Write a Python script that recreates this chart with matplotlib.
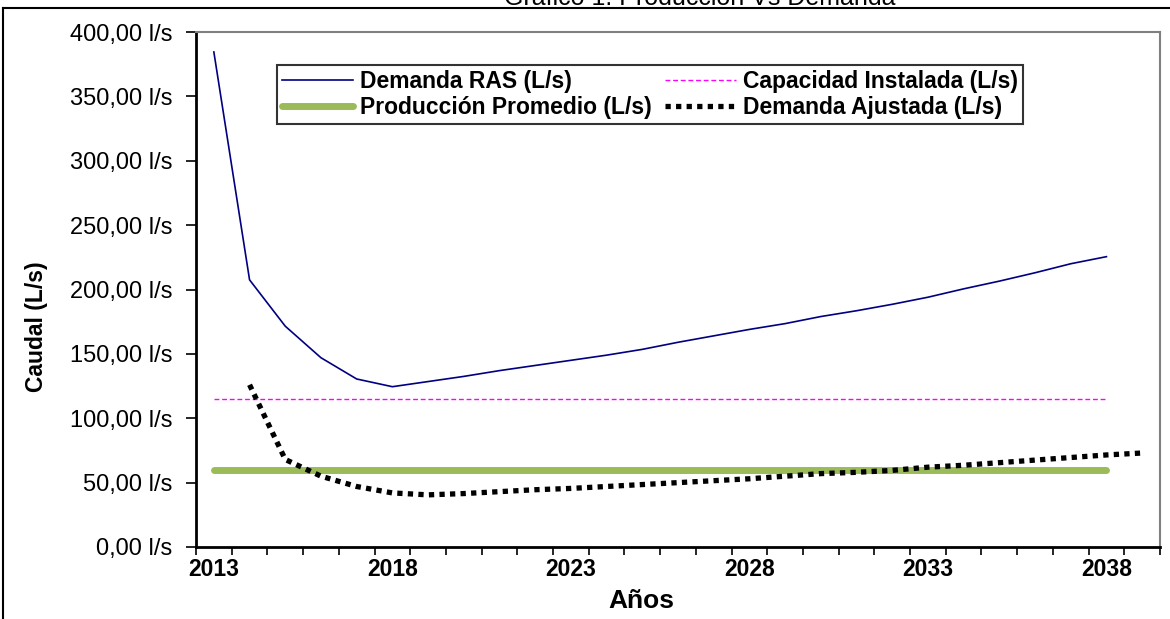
import matplotlib.pyplot as plt
from matplotlib.lines import Line2D
from matplotlib.ticker import FuncFormatter

plt.rcParams["font.family"] = ["Liberation Sans", "DejaVu Sans"]

years = list(range(2013, 2040))

# Demanda RAS (L/s), 2013-2038
demanda_ras = [384.5, 207.5, 171.5, 147.0, 130.5, 124.5, 128.5, 132.5, 137.0,
               141.0, 145.0, 149.0, 153.5, 159.0, 164.0, 169.0, 173.5, 179.0,
               183.5, 188.5, 194.0, 200.5, 206.5, 213.0, 220.0, 225.5]
capacidad = [115.0] * 26
produccion = [59.5] * 26
# Demanda Ajustada (L/s), 2014-2039
demanda_ajustada = [126.0, 68.0, 55.0, 47.0, 42.0, 40.5, 41.5, 43.0, 44.5,
                    45.5, 47.0, 48.5, 50.0, 51.5, 53.0, 55.0, 57.0, 58.0,
                    59.5, 62.0, 63.5, 65.5, 67.5, 69.5, 71.5, 73.0]

y_ticks = [0, 50, 100, 150, 200, 250, 300, 350, 400]
label_years = [2013, 2018, 2023, 2028, 2033, 2038]

fig = plt.figure(figsize=(11.7, 6.19), dpi=100)
ax = fig.add_axes([196 / 1170, 1 - 547 / 619, 964 / 1170, 515 / 619])

idx = list(range(len(years)))
ax.plot(idx[:26], demanda_ras, color="#000080", lw=1.2,
        label="Demanda RAS (L/s)")
ax.plot(idx[:26], capacidad, color="#FF00FF", lw=1.0, dashes=(3.5, 2),
        label="Capacidad Instalada (L/s)")
ax.plot(idx[:26], produccion, color="#9BBB59", lw=5, solid_capstyle="round",
        label="Producción Promedio (L/s)")
ax.plot(idx[1:], demanda_ajustada, color="black", lw=3.8, dashes=(1, 1),
        dash_capstyle="butt", label="Demanda Ajustada (L/s)")

ax.set_xlim(-0.5, len(years) - 0.5)
ax.set_ylim(0, 400)
ax.set_yticks(y_ticks)
ax.yaxis.set_major_formatter(
    FuncFormatter(lambda v, p: f"{v:.2f}".replace(".", ",") + " l/s"))

ax.set_xticks([i - 0.5 for i in range(len(years) + 1)])
ax.set_xticklabels([])
ax.set_xticks([years.index(y) for y in label_years], minor=True)
ax.set_xticklabels([str(y) for y in label_years], minor=True,
                   fontsize=16.5, fontweight="bold")
ax.tick_params(axis="x", which="minor", length=0, pad=8)
ax.tick_params(axis="x", which="major", length=6, width=1.2, direction="out")
ax.tick_params(axis="y", length=7, width=1.2, direction="out", pad=10,
               labelsize=17)

for s in ["left", "bottom"]:
    ax.spines[s].set_color("black")
    ax.spines[s].set_linewidth(2)
for s in ["top", "right"]:
    ax.spines[s].set_color("#808080")
    ax.spines[s].set_linewidth(1.5)

h, l = ax.get_legend_handles_labels()
order = [0, 2, 1, 3]
leg = fig.legend([h[i] for i in order], [l[i] for i in order], ncol=2,
                 loc="upper left", bbox_to_anchor=(277 / 1170, 1 - 65 / 619),
                 frameon=True, fancybox=False, edgecolor="black",
                 prop={"weight": "bold", "size": 16.5}, handlelength=3.1,
                 handletextpad=0.3, columnspacing=0.6, borderpad=0.2,
                 labelspacing=0.15, borderaxespad=0)
leg.get_frame().set_linewidth(1.5)

fig.text(641 / 1170, 1 - 601 / 619, "Años", ha="center", va="center",
         fontsize=19, fontweight="bold")
fig.text(37 / 1170, 1 - 327 / 619, "Caudal (L/s)", ha="center", va="center",
         rotation=90, fontsize=16.5, fontweight="bold")
fig.text(700 / 1170, 1 - 5 / 619, "Gráfico 1: Producción Vs Demanda",
         ha="center", va="baseline", fontsize=18)

fig.add_artist(Line2D([3 / 1170, 3 / 1170], [0, 1 - 8 / 619],
                      transform=fig.transFigure, color="black", lw=1.5))
fig.add_artist(Line2D([3 / 1170, 1], [1 - 8 / 619, 1 - 8 / 619],
                      transform=fig.transFigure, color="black", lw=1.5))

fig.savefig("out.png", dpi=100)
